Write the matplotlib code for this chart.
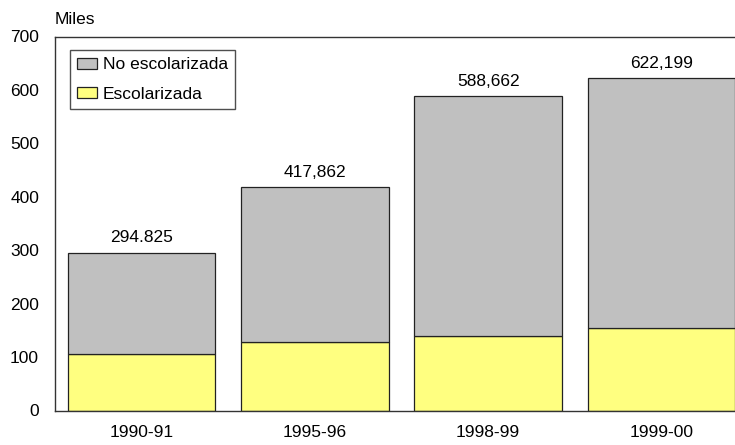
import matplotlib
matplotlib.use("Agg")
import matplotlib.pyplot as plt

plt.rcParams['font.family'] = ["Liberation Sans", "DejaVu Sans"]

categories = ["1990-91", "1995-96", "1998-99", "1999-00"]
escolarizada = [105.6, 128.7, 138.6, 153.6]
totales = [294.825, 417.862, 588.662, 622.199]
no_escolarizada = [t - e for t, e in zip(totales, escolarizada)]
total_labels = ["294.825", "417,862", "588,662", "622,199"]
y_ticks = [0, 100, 200, 300, 400, 500, 600, 700]

fs = 12.5
fig = plt.figure(figsize=(7.35, 4.45), dpi=100)
# axes extends slightly beyond the right edge like the reference
ax = fig.add_axes([55/735, 1 - 410.5/445, 693/735, 374/445])

x = range(len(categories))
ax.bar(x, escolarizada, width=0.85, color="#FFFF80", edgecolor="#222222", linewidth=0.9,
       label="Escolarizada")
ax.bar(x, no_escolarizada, width=0.85, bottom=escolarizada, color="#C0C0C0",
       edgecolor="#222222", linewidth=0.9, label="No escolarizada")

for xi, t, lab in zip(x, totales, total_labels):
    ax.text(xi, t + 14, lab, ha="center", va="bottom", fontsize=fs)

ax.set_xlim(-0.5, len(categories) - 0.5)
ax.set_ylim(0, 700)
ax.set_yticks(y_ticks)
ax.set_xticks(list(x))
ax.set_xticklabels(categories)
ax.tick_params(axis="both", length=0, labelsize=fs)
ax.tick_params(axis="y", pad=11.5)
ax.tick_params(axis="x", pad=10.5)
for s in ["left", "bottom", "top"]:
    ax.spines[s].set_color("#333333")
    ax.spines[s].set_linewidth(1.0)
ax.spines["right"].set_visible(False)

handles, labels = ax.get_legend_handles_labels()
leg = ax.legend(handles[::-1], labels[::-1], loc="upper left",
                bbox_to_anchor=(14.5/693, 1 - 13.5/374), fontsize=fs,
                frameon=True, fancybox=False, edgecolor="#222222",
                handlelength=1.15, handleheight=0.6, handletextpad=0.36,
                borderpad=0.42, labelspacing=0.85, borderaxespad=0)
leg.get_frame().set_linewidth(1.0)

fig.text(55/735, 1 - 20/445, "Miles", ha="left", va="center", fontsize=fs)

fig.savefig("out.png", dpi=100)
